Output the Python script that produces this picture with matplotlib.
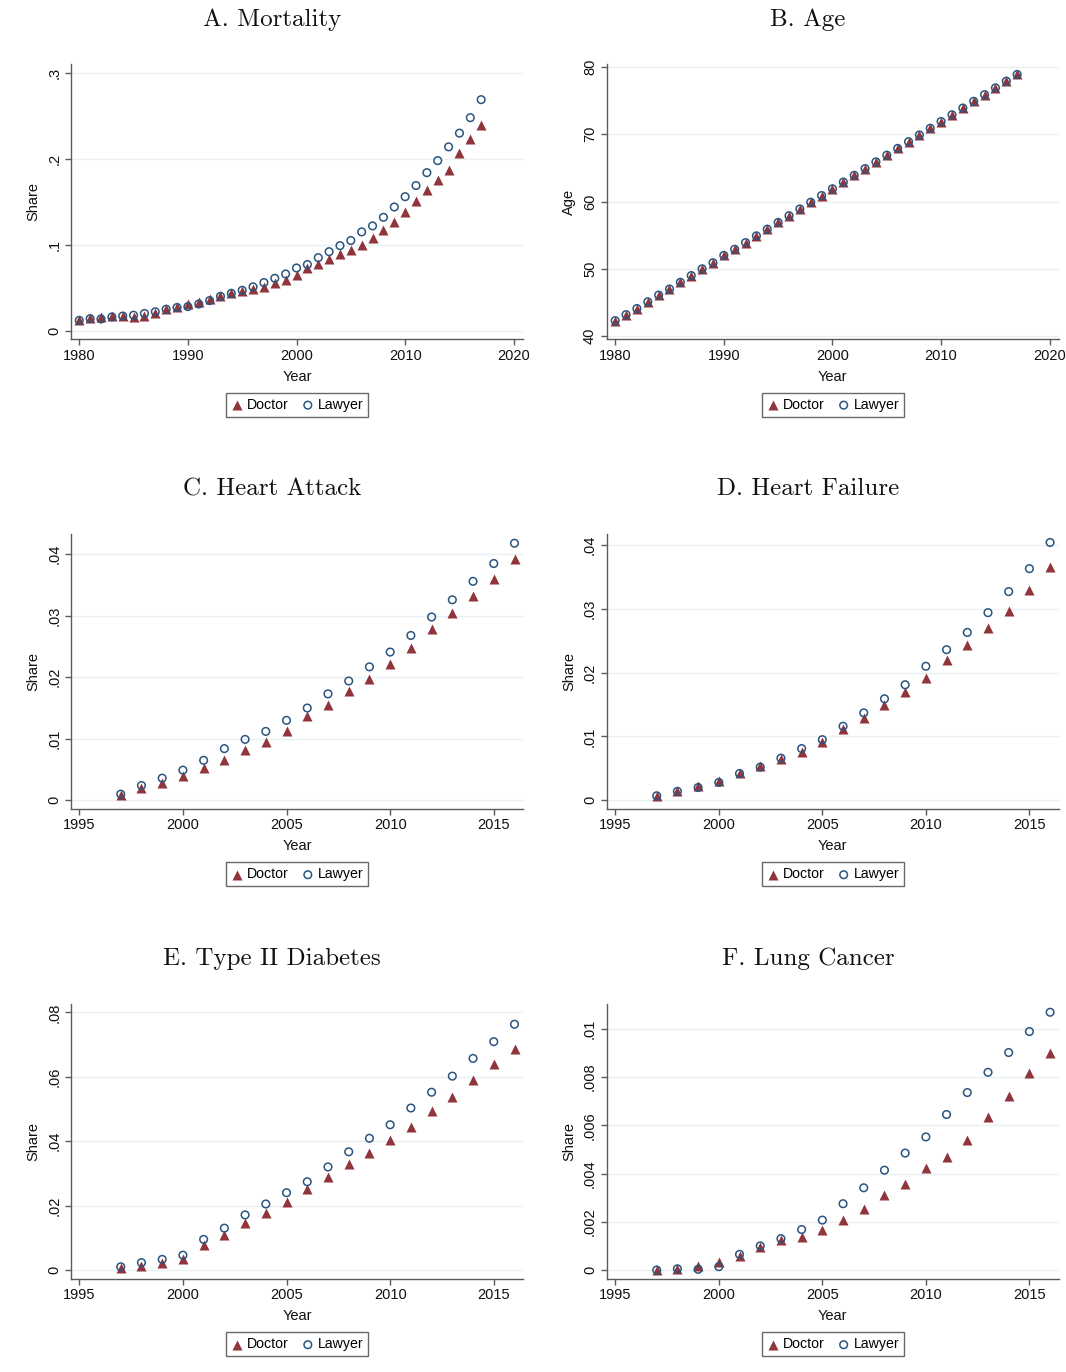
import matplotlib
matplotlib.use("Agg")
import matplotlib.pyplot as plt
from matplotlib.ticker import FuncFormatter

plt.rcParams['font.family'] = ['Liberation Sans', 'DejaVu Sans']

years_a = list(range(1980, 2018))
years_c = list(range(1997, 2017))

mort_doctor = [0.012, 0.015, 0.0155, 0.017, 0.017, 0.016, 0.017, 0.021, 0.025, 0.027,
               0.031, 0.033, 0.0365, 0.040, 0.0435, 0.046, 0.048, 0.051, 0.055, 0.059,
               0.065, 0.0725, 0.078, 0.0835, 0.089, 0.0935, 0.100, 0.108, 0.117, 0.1265,
               0.1385, 0.151, 0.1635, 0.175, 0.187, 0.2065, 0.2235, 0.2395]
mort_lawyer = [0.012, 0.014, 0.0136, 0.016, 0.017, 0.018, 0.020, 0.022, 0.025, 0.027,
               0.028, 0.031, 0.035, 0.040, 0.0435, 0.047, 0.051, 0.056, 0.061, 0.066,
               0.073, 0.077, 0.085, 0.092, 0.099, 0.105, 0.115, 0.122, 0.132, 0.144,
               0.156, 0.169, 0.184, 0.198, 0.214, 0.230, 0.248, 0.269]

age_doctor = [42.3, 43.2, 44.1, 45.1, 46.1, 47.0, 48.0, 49.0, 50.0, 50.9,
              52.0, 52.9, 53.9, 54.9, 55.9, 56.9, 57.9, 58.9, 59.9, 60.9,
              61.9, 62.9, 63.9, 64.9, 65.9, 66.9, 67.9, 68.9, 69.9, 70.9,
              71.9, 72.9, 73.9, 74.9, 75.9, 76.9, 77.9, 78.9]
age_lawyer = [42.3, 43.2, 44.1, 45.1, 46.1, 47.0, 48.0, 49.0, 50.0, 50.9,
              52.0, 52.9, 53.9, 54.9, 55.9, 56.9, 57.9, 58.9, 59.9, 60.9,
              61.9, 62.9, 63.9, 64.9, 65.9, 66.9, 67.9, 68.9, 69.9, 70.9,
              71.9, 72.9, 73.9, 74.9, 75.9, 76.9, 77.9, 78.9]

ha_doctor = [0.0009, 0.0020, 0.0028, 0.0040, 0.0052, 0.0066, 0.0081, 0.0095, 0.0113, 0.0137,
             0.0155, 0.0177, 0.0197, 0.0222, 0.0248, 0.0278, 0.0305, 0.0332, 0.0360, 0.0392]
ha_lawyer = [0.0010, 0.0024, 0.0036, 0.0049, 0.0065, 0.0084, 0.0099, 0.0112, 0.0130, 0.0150,
             0.0173, 0.0194, 0.0217, 0.0241, 0.0268, 0.0298, 0.0326, 0.0356, 0.0385, 0.0418]

hf_doctor = [0.0007, 0.0015, 0.0023, 0.0030, 0.0043, 0.0054, 0.0065, 0.0075, 0.0091, 0.0112,
             0.0129, 0.0150, 0.0170, 0.0191, 0.0220, 0.0243, 0.0270, 0.0296, 0.0329, 0.0365]
hf_lawyer = [0.0007, 0.0014, 0.0020, 0.0028, 0.0042, 0.0052, 0.0066, 0.0081, 0.0095, 0.0116,
             0.0137, 0.0159, 0.0181, 0.0210, 0.0236, 0.0263, 0.0294, 0.0327, 0.0363, 0.0404]

db_doctor = [0.0007, 0.0013, 0.0022, 0.0035, 0.0078, 0.0109, 0.0145, 0.0178, 0.0211, 0.0253,
             0.0289, 0.0328, 0.0363, 0.0404, 0.0444, 0.0494, 0.0536, 0.0590, 0.0639, 0.0687]
db_lawyer = [0.0010, 0.0023, 0.0033, 0.0046, 0.0095, 0.0130, 0.0171, 0.0205, 0.0240, 0.0274,
             0.0320, 0.0367, 0.0409, 0.0451, 0.0503, 0.0552, 0.0602, 0.0657, 0.0709, 0.0763]

lc_doctor = [0.00001, 0.00004, 0.00017, 0.00033, 0.00058, 0.00097, 0.00123, 0.00137, 0.00166, 0.00209,
             0.00254, 0.00311, 0.00358, 0.00424, 0.00470, 0.00541, 0.00633, 0.00722, 0.00816, 0.00898]
lc_lawyer = [0.00000, 0.00005, 0.00003, 0.00014, 0.00065, 0.00100, 0.00130, 0.00168, 0.00207, 0.00275,
             0.00341, 0.00414, 0.00485, 0.00552, 0.00645, 0.00736, 0.00820, 0.00902, 0.00989, 0.01069]

titles = ["A. Mortality", "B. Age", "C. Heart Attack", "D. Heart Failure",
          "E. Type II Diabetes", "F. Lung Cancer"]
ylabels = ["Share", "Age", "Share", "Share", "Share", "Share"]
xticks_a = [1980, 1990, 2000, 2010, 2020]
xticks_c = [1995, 2000, 2005, 2010, 2015]
yticks_list = [[0, 0.1, 0.2, 0.3], [40, 50, 60, 70, 80],
               [0, 0.01, 0.02, 0.03, 0.04], [0, 0.01, 0.02, 0.03, 0.04],
               [0, 0.02, 0.04, 0.06, 0.08], [0, 0.002, 0.004, 0.006, 0.008, 0.01]]

panels = [
    (years_a, mort_doctor, mort_lawyer, xticks_a, (1979.24, 2020.85), (-0.0097, 0.3105)),
    (years_a, age_doctor, age_lawyer, xticks_a, (1979.22, 2020.85), (39.57, 80.45)),
    (years_c, ha_doctor, ha_lawyer, xticks_c, (1994.6, 2016.41), (-0.00137, 0.04325)),
    (years_c, hf_doctor, hf_lawyer, xticks_c, (1994.585, 2016.43), (-0.00132, 0.04168)),
    (years_c, db_doctor, db_lawyer, xticks_c, (1994.6, 2016.41), (-0.0027, 0.0825)),
    (years_c, lc_doctor, lc_lawyer, xticks_c, (1994.585, 2016.43), (-0.00036, 0.01102)),
]

W, H = 1066, 1372
fig = plt.figure(figsize=(W / 100, H / 100), dpi=100)

# axes boxes in pixels: left, right, top, bottom
col_lr = [(71, 523), (606.7, 1059)]
row_tb = [(64, 339), (534.3, 808.7), (1004.3, 1278.7)]
cell_centers = [272, 808]
title_y = [20, 489, 959]

maroon = '#90353B'
navy = '#2A5580'
spine_col = '#5a5a5a'

def fmt_stata(v, pos):
    if abs(v) < 1e-12:
        return '0'
    s = ('%.4f' % v).rstrip('0').rstrip('.')
    if s.startswith('0.'):
        s = s[1:]
    return s

for i, (xs, dvals, lvals, xt, xl, yl) in enumerate(panels):
    r, c = divmod(i, 2)
    l, rr = col_lr[c]
    t, b = row_tb[r]
    ax = fig.add_axes([l / W, 1 - b / H, (rr - l) / W, (b - t) / H])
    ax.scatter(xs, dvals, marker='^', s=52, color=maroon, linewidths=0, zorder=3,
               label='Doctor')
    ax.scatter(xs, lvals, marker='o', s=30, facecolors='none', edgecolors=navy,
               linewidths=1.1, zorder=4, label='Lawyer')
    ax.set_xlim(*xl)
    ax.set_ylim(*yl)
    ax.set_xticks(xt)
    ax.set_yticks(yticks_list[i])
    if i == 1:
        ax.yaxis.set_major_formatter(FuncFormatter(lambda v, p: '%d' % v))
    else:
        ax.yaxis.set_major_formatter(FuncFormatter(fmt_stata))
    ax.grid(axis='y', color='#e9f0f3', linewidth=1.0, zorder=0)
    ax.set_axisbelow(True)
    for s in ['top', 'right']:
        ax.spines[s].set_visible(False)
    for s in ['left', 'bottom']:
        ax.spines[s].set_color(spine_col)
        ax.spines[s].set_linewidth(1.0)
    ax.tick_params(axis='both', colors=spine_col, labelcolor='#111111',
                   labelsize=10.5, length=4, width=1.0, pad=3)
    for lab in ax.get_yticklabels():
        lab.set_rotation(90)
        lab.set_va('center')
    ax.set_xlabel('Year', fontsize=10.5, color='#111111', labelpad=5)
    ax.set_ylabel(ylabels[i], fontsize=10.5, color='#111111', labelpad=5)
    leg = ax.legend(loc='upper center', bbox_to_anchor=(0.5, -0.196), ncol=2,
                    fontsize=10.2, frameon=True, fancybox=False, borderaxespad=0,
                    handletextpad=0.25, columnspacing=0.9, handlelength=0.9,
                    borderpad=0.35, scatterpoints=1)
    leg.get_frame().set_edgecolor('#444444')
    leg.get_frame().set_linewidth(1.0)
    fig.text(cell_centers[c] / W, 1 - title_y[r] / H, titles[i], ha='center', va='center',
             fontsize=18, family='cmr10', color='#111111')

fig.savefig('out.png', dpi=100, facecolor='white')
